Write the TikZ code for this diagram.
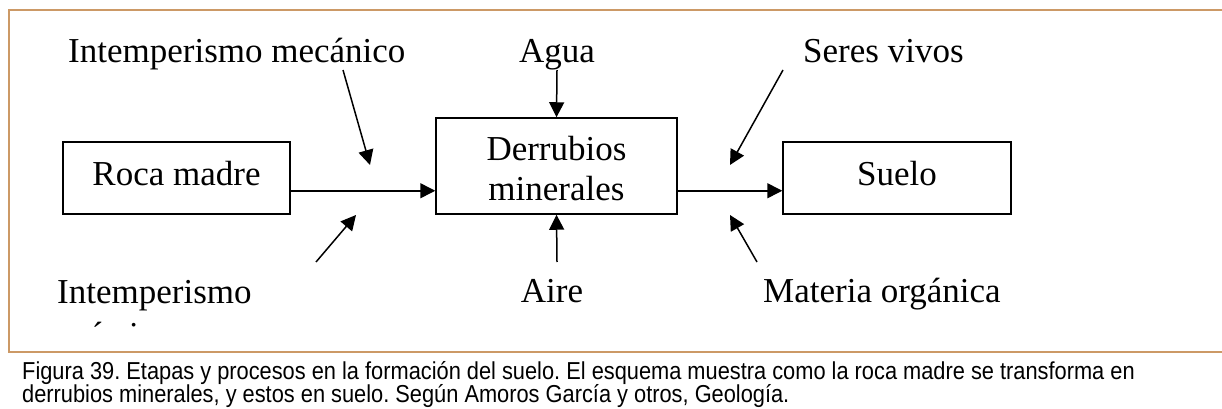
\documentclass[tikz,border=0pt]{standalone}
\usepackage{fontspec}
\setmainfont{Liberation Serif}
\newfontfamily\capfont{Liberation Sans}
\usetikzlibrary{arrows.meta}
\definecolor{framec}{RGB}{204,153,102}
\frenchspacing
\begin{document}
\begin{tikzpicture}[x=1pt,y=-1pt,
  box/.style={draw,line width=1.5pt,inner sep=0pt,align=center,font=\fontsize{35}{40}\selectfont},
  lbl/.style={inner sep=0pt,font=\fontsize{35}{40}\selectfont},
  arr/.style={line width=1.5pt,-{Triangle[length=15pt,width=15pt]}},
  framel/.style={framec,line width=1.5pt},
  captext/.style={inner sep=0pt,anchor=base west,font=\capfont\fontsize{24.5}{23}\selectfont}]
\useasboundingbox (0,0) rectangle (1222,409);
\fill[white] (0,0) rectangle (1222,409);
% frame
\coordinate (f1) at (1222,10);
\coordinate (f2) at (9,10);
\coordinate (f3) at (9,352);
\coordinate (f4) at (1222,352);
\draw[framel] (f1) -- (f2) -- (f3) -- (f4);
% boxes
\node[box,minimum width=227pt,minimum height=72pt,text height=24pt,text depth=10pt] (roca) at (176.5,178) {Roca madre};
\node[box,minimum width=241pt,minimum height=96pt] (derr) at (556.5,166) {\rule{0pt}{30pt}Derrubios\\minerales};
\node[box,minimum width=228pt,minimum height=72pt,text height=24pt,text depth=10pt] (suelo) at (897,178) {Suelo};
% labels
\node[lbl,anchor=base west] (mec) at (68,63) {Intemperismo mecánico};
\node[lbl,anchor=base] (agua) at (557,63) {Agua};
\node[lbl,anchor=base west] (seres) at (803,63) {Seres vivos};
\node[lbl,anchor=base west] (quia) at (57,303) {Intemperismo};
\begin{scope}
\clip (0,0) rectangle (1222,328);
\node[lbl,anchor=base west] (quib) at (57,346) {químico};
\end{scope}
\node[lbl,anchor=base] (aire) at (552,302) {Aire};
\node[lbl,anchor=base west] (mat) at (763,302) {Materia orgánica};
% main flow
\draw[arr] ([yshift=24pt]roca.south east) -- ([yshift=24pt]derr.south west);
\draw[arr] ([yshift=24pt]derr.south east) -- ([yshift=24pt]suelo.south west);
% inputs
\coordinate (mec0) at (343,70);
\coordinate (mec1) at (370,165);
\draw[arr] (mec0) -- (mec1);
\coordinate (qui0) at (316,262);
\coordinate (qui1) at (356,215);
\draw[arr] (qui0) -- (qui1);
\coordinate (agua0) at (557,70);
\draw[arr] (agua0) -- (derr.north);
\coordinate (aire0) at (557,262);
\draw[arr] (aire0) -- (derr.south);
\coordinate (ser0) at (783,70);
\coordinate (ser1) at (730,165);
\draw[arr] (ser0) -- (ser1);
\coordinate (mat0) at (757,262);
\coordinate (mat1) at (730,215);
\draw[arr] (mat0) -- (mat1);
% caption
\node[captext] (cap1) at (22,379) {\scalebox{0.89}[1]{Figura 39. Etapas y procesos en la formación del suelo. El esquema muestra como la roca madre se transforma en}};
\node[captext] (cap2) at (22,402) {\scalebox{0.89}[1]{derrubios minerales, y estos en suelo. Según Amoros García y otros, Geología.}};
\end{tikzpicture}
\end{document}
